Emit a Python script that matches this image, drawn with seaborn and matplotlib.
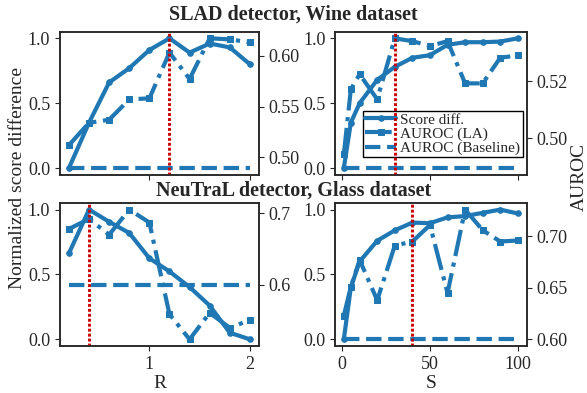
import numpy as np
import pandas as pd
import matplotlib
matplotlib.use('Agg')
import matplotlib.pyplot as plt
import seaborn as sns

# 파라미터 값 (x축)
R = [0.2, 0.4, 0.6, 0.8, 1.0, 1.2, 1.4, 1.6, 1.8, 2.0]
S = [1, 5, 10, 20, 30, 40, 50, 60, 70, 80, 90, 100]

# SLAD detector, Wine dataset
wine_score_R = [0.0, 0.35, 0.66, 0.77, 0.91, 1.0, 0.89, 0.96, 0.93, 0.80]
wine_auroc_R = [0.512, 0.534, 0.537, 0.557, 0.558, 0.603, 0.577, 0.617, 0.616, 0.613]
wine_score_S = [0.0, 0.35, 0.50, 0.68, 0.78, 0.85, 0.87, 0.95, 0.97, 0.97, 0.975, 1.0]
wine_auroc_S = [0.4943, 0.5171, 0.5224, 0.5136, 0.535, 0.534, 0.5323, 0.534, 0.5192, 0.5192, 0.5282, 0.529]
wine_baseline = 0.4895
wine_best_R = 1.2
wine_best_S = 30

# NeuTraL detector, Glass dataset
glass_score_R = [0.663, 1.0, 0.906, 0.82, 0.625, 0.523, 0.403, 0.26, 0.051, 0.0]
glass_auroc_R = [0.678, 0.692, 0.670, 0.705, 0.687, 0.559, 0.524, 0.561, 0.540, 0.551]
glass_score_S = [0.0, 0.40, 0.60, 0.76, 0.84, 0.90, 0.895, 0.94, 0.95, 0.975, 1.0, 0.97]
glass_auroc_S = [0.623, 0.651, 0.677, 0.638, 0.691, 0.695, 0.711, 0.645, 0.726, 0.706, 0.695, 0.696]
glass_baseline = 0.600
glass_best_R = 0.4
glass_best_S = 40

# 그래프 스타일
sns.set_style('ticks')
plt.rcParams['font.family'] = ['Liberation Serif', 'DejaVu Serif']
plt.rcParams['xtick.labelsize'] = 13
plt.rcParams['ytick.labelsize'] = 13
plt.rcParams['axes.linewidth'] = 1.1

blue = '#1f77b4'
red = '#cc0000'

fig, axes = plt.subplots(2, 2, figsize=(5.87, 3.93), dpi=100, sharex='col',
                         gridspec_kw={'width_ratios': [1.04, 1]})
fig.subplots_adjust(left=0.102, right=0.897, bottom=0.12, top=0.919, wspace=0.39, hspace=0.2)

panels = [
    (axes[0, 0], R, wine_score_R, wine_auroc_R, wine_baseline, wine_best_R, [0.50, 0.55, 0.60]),
    (axes[0, 1], S, wine_score_S, wine_auroc_S, wine_baseline, wine_best_S, [0.50, 0.52]),
    (axes[1, 0], R, glass_score_R, glass_auroc_R, glass_baseline, glass_best_R, [0.6, 0.7]),
    (axes[1, 1], S, glass_score_S, glass_auroc_S, glass_baseline, glass_best_S, [0.60, 0.65, 0.70]),
]

handles = None
for ax, x, score, auroc, base, best, rticks in panels:
    sns.lineplot(x=x, y=score, ax=ax, color=blue, lw=3, marker='o', markersize=4,
                 markeredgecolor=blue, label='Score diff.', legend=False)
    ax2 = ax.twinx()
    sns.lineplot(x=x, y=auroc, ax=ax2, color=blue, lw=3, ls='-.', marker='s', markersize=5,
                 markeredgecolor=blue, label='AUROC (LA)', legend=False)
    sns.lineplot(x=x, y=[base] * len(x), ax=ax2, color=blue, lw=3, ls='--',
                 label='AUROC (Baseline)', legend=False)
    ax2.axvline(best, color=red, ls=(0, (1, 0.7)), lw=2.1)
    ax.set_yticks([0, 0.5, 1.0])
    ax2.set_yticks(rticks)
    if ax is axes[0, 1]:
        handles = [ax.get_lines()[0]] + ax2.get_lines()[:2]

axes[0, 0].set_xticks([1, 2])
axes[0, 1].set_xticks([0, 50, 100])
axes[1, 0].set_xlabel('R', fontsize=14, labelpad=2)
axes[1, 1].set_xlabel('S', fontsize=14, labelpad=2)

axes[0, 1].legend(handles=handles, labels=['Score diff.', 'AUROC (LA)', 'AUROC (Baseline)'],
                  loc='lower right', bbox_to_anchor=(0.98, 0.12), borderaxespad=0,
                  frameon=True, fancybox=False, edgecolor='black', framealpha=1,
                  fontsize=11, handlelength=2, handletextpad=0.3, labelspacing=0.02,
                  borderpad=0.15)

fig.text(0.5, 0.962, 'SLAD detector, Wine dataset', ha='center', va='center',
         fontsize=14.5, fontweight='bold')
fig.text(0.5, 0.514, 'NeuTraL detector, Glass dataset', ha='center', va='center',
         fontsize=14.5, fontweight='bold')
fig.text(0.029, 0.547, 'Normalized score difference', rotation=90, ha='center', va='center',
         fontsize=14)
fig.text(0.987, 0.55, 'AUROC', rotation=90, ha='center', va='center', fontsize=14)

plt.savefig('out.png', dpi=100)
